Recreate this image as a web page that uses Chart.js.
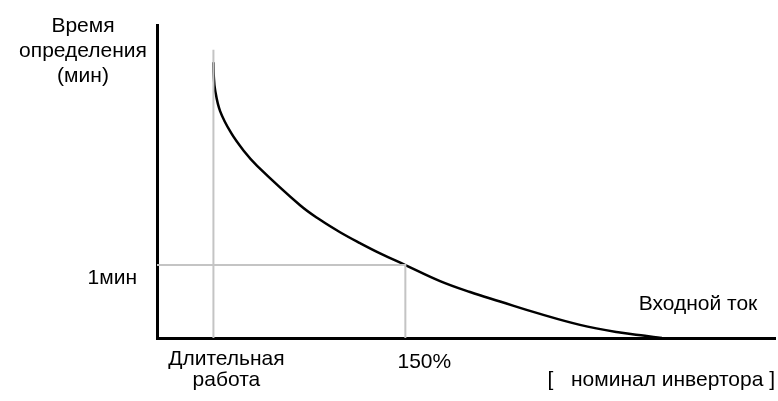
<!DOCTYPE html>
<html>
<head>
<meta charset="utf-8">
<script src="https://cdn.jsdelivr.net/npm/chart.js@4"></script>
<style>
  html, body { margin: 0; padding: 0; background: #fff; }
  #wrap { width: 778px; height: 401px; position: relative; }
</style>
</head>
<body>
<div id="wrap"><canvas id="myChart" width="778" height="401"></canvas></div>
<script>
// input current, % of inverter rating
const currentPct = [100, 100.08, 100.44, 101.74, 104.61, 107.99, 111.38, 122.58, 127.79, 132.99, 138.2, 143.41, 150, 159.04, 166.85, 174.66, 185.08, 195.49, 205.91, 212.42, 216.85];
// detection time, minutes
const timeMin = [3.78, 3.6, 3.4, 3.11, 2.81, 2.56, 2.36, 1.82, 1.62, 1.45, 1.3, 1.16, 1.0, 0.78, 0.63, 0.5, 0.33, 0.18, 0.075, 0.03, 0];

const xMin = 85.3, xMax = 246.3;
const yMax = 4.29;
const ratedPct = 100, markPct = 150, markMin = 1, ratedTop = 3.95;

const yLabel = ['Время', 'определения', '(мин)'];
const xLabel = 'Входной ток';
const unitLabel = '[   номинал инвертора ]';
const ratedLabel = ['Длительная', 'работа'];
const markLabel = '150%';
const minLabel = '1мин';

const curve = currentPct.map((x, i) => ({ x: x, y: timeMin[i] }));
const gray = '#c4c4c4';

// all the text of the picture
const textPlugin = {
  id: 'texts',
  afterDraw(chart) {
    const c = chart.ctx;
    const xs = chart.scales.x, ys = chart.scales.y;
    c.save();
    c.fillStyle = '#000';
    c.font = '21px "Liberation Sans", Arial, sans-serif';
    c.textBaseline = 'alphabetic';
    c.textAlign = 'center';
    yLabel.forEach((t, i) => c.fillText(t, 83, 32 + i * 25));
    ratedLabel.forEach((t, i) => c.fillText(t, xs.getPixelForValue(ratedPct) + 13, 365 + i * 21));
    c.fillText(markLabel, xs.getPixelForValue(markPct) + 19, 368);
    c.fillText(xLabel, 698, 310);
    c.textAlign = 'right';
    c.fillText(minLabel, 137, ys.getPixelForValue(markMin) + 19);
    c.fillText(unitLabel, 775, 386);
    c.restore();
  }
};

const ctx = document.getElementById('myChart').getContext('2d');
const chart = new Chart(ctx, {
  type: 'line',
  data: {
    datasets: [
      { data: [{ x: ratedPct, y: 0 }, { x: ratedPct, y: ratedTop }], borderColor: gray, borderWidth: 2, pointRadius: 0 },
      { data: [{ x: xMin, y: markMin }, { x: markPct, y: markMin }, { x: markPct, y: 0 }], borderColor: gray, borderWidth: 2, pointRadius: 0 },
      { data: curve, borderColor: '#000', borderWidth: 2.5, pointRadius: 0, tension: 0.4 }
    ]
  },
  options: {
    responsive: false,
    animation: false,
    layout: { padding: { left: 157, top: 25, right: 3, bottom: 63 } },
    plugins: { legend: { display: false }, tooltip: { enabled: false } },
    scales: {
      x: {
        type: 'linear', min: xMin, max: xMax,
        grid: { display: false, drawTicks: false },
        border: { color: '#000', width: 3 },
        ticks: { display: false }
      },
      y: {
        type: 'linear', min: 0, max: yMax,
        grid: { display: false, drawTicks: false },
        border: { color: '#000', width: 3 },
        ticks: { display: false }
      }
    }
  },
  plugins: [textPlugin]
});
</script>
</body>
</html>
